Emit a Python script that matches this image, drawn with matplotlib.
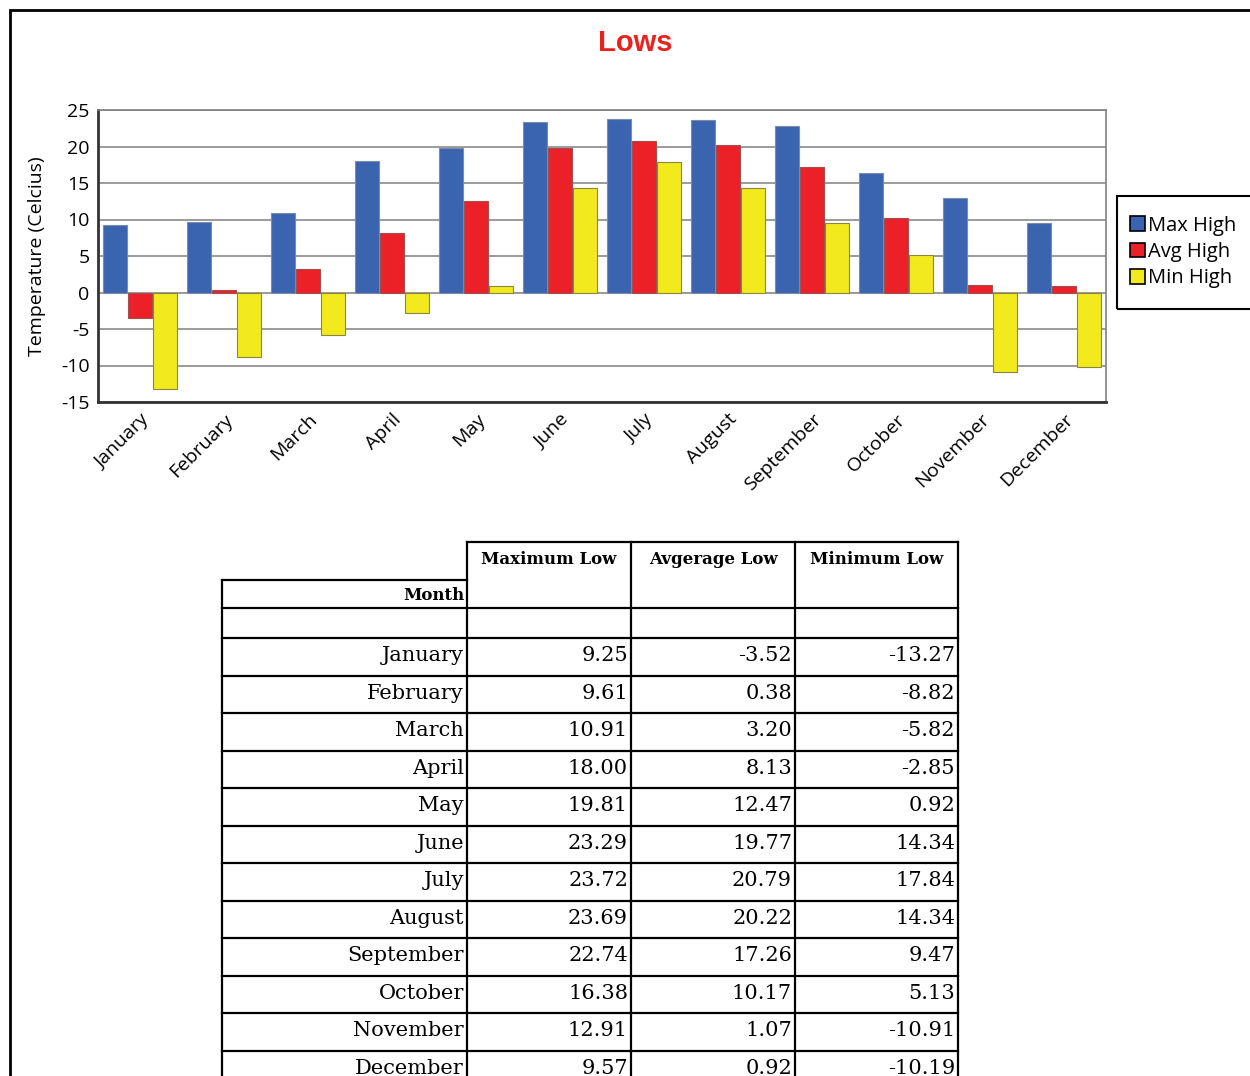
import numpy as np
import matplotlib.pyplot as plt
from matplotlib.patches import Rectangle

months = ['January', 'February', 'March', 'April', 'May', 'June', 'July',
          'August', 'September', 'October', 'November', 'December']
max_low = [9.25, 9.61, 10.91, 18.00, 19.81, 23.29, 23.72, 23.69, 22.74, 16.38, 12.91, 9.57]
avg_low = [-3.52, 0.38, 3.20, 8.13, 12.47, 19.77, 20.79, 20.22, 17.26, 10.17, 1.07, 0.92]
min_low = [-13.27, -8.82, -5.82, -2.85, 0.92, 14.34, 17.84, 14.34, 9.47, 5.13, -10.91, -10.19]
series_names = ['Max High', 'Avg High', 'Min High']
col_headers = ['Maximum Low', 'Avgerage Low', 'Minimum Low']
yticks = [-15, -10, -5, 0, 5, 10, 15, 20, 25]

colors = ['#3A64B0', '#EC2027', '#F2EA1C']
edges = ['#7d8aa8', '#a05050', '#8a8640']
sans = ['Open Sans', 'DejaVu Sans']
serif = ['DejaVu Serif']

W, H = 1250, 1076
fig = plt.figure(figsize=(W / 100, H / 100), dpi=100)

# outer border of the page
fig.patches.append(Rectangle((10 / W, -0.1), 1.2, 1 - 10 / H + 0.1, transform=fig.transFigure,
                             fill=False, edgecolor='black', linewidth=2))

fig.text(0.508, 1 - 43 / H, 'Lows', color='#E8231E', fontsize=21, fontweight='bold',
         family=['Liberation Sans', 'DejaVu Sans'], ha='center', va='center')

# ---- bar chart ----
ax = fig.add_axes([98 / W, 1 - 402 / H, (1106 - 98) / W, (402 - 110) / H])
x = np.arange(len(months))
width = 0.28
for k, (vals, c, ec, name) in enumerate(zip([max_low, avg_low, min_low], colors, edges, series_names)):
    ax.bar(x + (k - 1) * 0.295, vals, width, color=c, edgecolor=ec, linewidth=0.8,
           label=name, zorder=3)
ax.set_xlim(-0.5, len(months) - 0.5)
ax.set_ylim(-15, 25)
ax.set_yticks(yticks)
ax.set_yticklabels([str(t) for t in yticks], family=sans, fontsize=14)
ax.set_xticks(x)
ax.set_xticklabels(months, rotation=45, ha='right', rotation_mode='anchor',
                   family=sans, fontsize=14)
ax.tick_params(length=0, pad=6)
ax.grid(axis='y', color='#8a8a8a', linewidth=1.2, zorder=0)
for side in ['top', 'right']:
    ax.spines[side].set_color('#808080')
    ax.spines[side].set_linewidth(1.2)
for side in ['left', 'bottom']:
    ax.spines[side].set_color('#333333')
    ax.spines[side].set_linewidth(2)
ax.set_ylabel('Temperature (Celcius)', family=sans, fontsize=14, labelpad=11)

# legend with a box running off the page edge
fig.patches.append(Rectangle((1117 / W, 1 - 309 / H), 0.2, (309 - 196) / H,
                             transform=fig.transFigure, fill=False,
                             edgecolor='black', linewidth=1.5))
handles, labels = ax.get_legend_handles_labels()
leg = fig.legend(handles, labels, loc='center left',
                 bbox_to_anchor=(1130 / W, 1 - 252 / H), frameon=False,
                 prop={'family': sans, 'size': 14.5}, handlelength=0.75, handleheight=0.75,
                 handletextpad=0.15, labelspacing=0.32, borderaxespad=0, borderpad=0)
for p in leg.get_patches():
    p.set_edgecolor('black')
    p.set_linewidth(1.2)

# ---- data table ----
tab = fig.add_axes([0, 0, 1, 1])
tab.set_xlim(0, W)
tab.set_ylim(H, 0)
tab.axis('off')

col_x = [222, 467, 631, 795, 958]
head_top, month_top, head_bot, blank_bot = 542, 580, 608, 638
row_h = 37.5
n = len(months)
row_y = [blank_bot + i * row_h for i in range(n + 1)]
lw = 1.6

# horizontal rules
tab.plot([col_x[1], col_x[-1]], [head_top, head_top], color='black', lw=lw)
tab.plot([col_x[0], col_x[1]], [month_top, month_top], color='black', lw=lw)
for yy in [head_bot] + row_y:
    tab.plot([col_x[0], col_x[-1]], [yy, yy], color='black', lw=lw)
# vertical rules
tab.plot([col_x[0], col_x[0]], [month_top, row_y[-1]], color='black', lw=lw)
for cx in col_x[1:]:
    tab.plot([cx, cx], [head_top, row_y[-1]], color='black', lw=lw)

for j, hdr in enumerate(col_headers):
    tab.text((col_x[j + 1] + col_x[j + 2]) / 2, 559, hdr, ha='center', va='center',
             family=serif, fontsize=12, fontweight='bold')
tab.text(col_x[1] - 3, 596, 'Month', ha='right', va='center', family=serif,
         fontsize=12, fontweight='bold')

for i, m in enumerate(months):
    yc = (row_y[i] + row_y[i + 1]) / 2 - 1
    tab.text(col_x[1] - 3, yc, m, ha='right', va='center', family=serif, fontsize=15)
    for j, vals in enumerate([max_low, avg_low, min_low]):
        tab.text(col_x[j + 2] - 3, yc, f'{vals[i]:.2f}', ha='right', va='center',
                 family=serif, fontsize=15)

fig.savefig('out.png', dpi=100)
